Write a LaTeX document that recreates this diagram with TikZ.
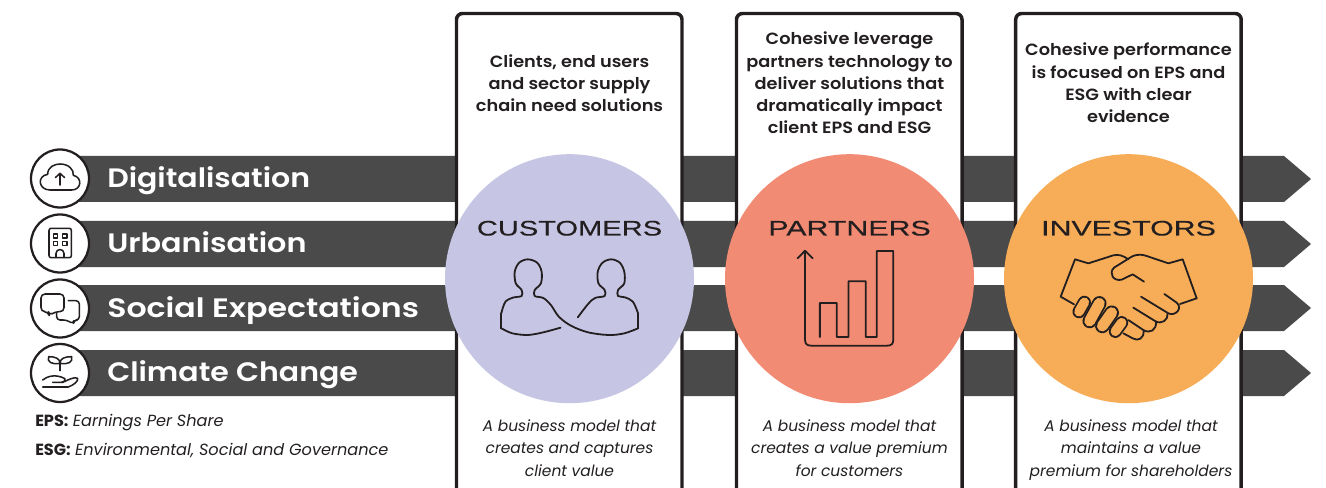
\documentclass[tikz,border=0pt]{standalone}
\usepackage{fontspec}
\setmainfont{Poppins}
\newfontfamily\barfont[FakeStretch=1.125]{Poppins SemiBold}
\newfontfamily\barfontb[FakeStretch=1.135]{Poppins SemiBold}
\newfontfamily\barfontc[FakeStretch=1.185]{Poppins SemiBold}
\newfontfamily\headfont[FakeStretch=1.09]{Poppins SemiBold}
\newfontfamily\capsfont[FakeStretch=1.38,FakeBold=0.35]{Liberation Sans}
\newfontfamily\capsfontb[FakeStretch=1.44,FakeBold=0.35]{Liberation Sans}
\newfontfamily\notefont[ItalicFont={Poppins Italic},BoldFont={Poppins Bold}]{Poppins}
\definecolor{barc}{HTML}{4A4A4A}
\definecolor{inkc}{HTML}{231F20}
\definecolor{lavc}{HTML}{C6C6E4}
\definecolor{salc}{HTML}{F28B73}
\definecolor{orac}{HTML}{F7AD57}
\tikzset{
  x=0.75pt,y=-0.75pt,
  flowbar/.style={fill=barc,draw=none},
  panel/.style={fill=white,draw=inkc,line width=2.6pt,rounded corners=4.5pt},
  disc/.style={circle,minimum size=186.75pt,inner sep=0pt,draw=none},
  badge/.style={circle,minimum size=43.5pt,inner sep=0pt,fill=white,draw=inkc,line width=1.7pt},
  barlabel/.style={anchor=base west,text=white,inner sep=0pt,font=\barfont\fontsize{20}{24}\selectfont},
  barlabelb/.style={anchor=base west,text=white,inner sep=0pt,font=\barfontb\fontsize{20}{24}\selectfont},
  barlabelc/.style={anchor=base west,text=white,inner sep=0pt,font=\barfontc\fontsize{20}{24}\selectfont},
  headtext/.style={align=center,text=inkc,inner sep=0pt,font=\headfont\fontsize{12.2}{16.7}\selectfont},
  captext/.style={align=center,text=inkc,inner sep=0pt,font=\notefont\itshape\fontsize{11.6}{16.9}\selectfont},
  disclabel/.style={text=inkc,inner sep=0pt,anchor=base,font=\capsfont\fontsize{15.8}{18}\selectfont},
  disclabelb/.style={text=inkc,inner sep=0pt,anchor=base,font=\capsfontb\fontsize{15.8}{18}\selectfont},
  notetext/.style={anchor=base west,text=inkc,inner sep=0pt,font=\notefont\fontsize{12.1}{14}\selectfont},
  iconbig/.style={draw=inkc,line width=1.35pt,line cap=round,line join=round},
  iconsmall/.style={draw=inkc,line width=1.15pt,line cap=round,line join=round},
  fingerout/.style={draw=inkc,line cap=round,line width=#1},
}
\begin{document}
\begin{tikzpicture}
\useasboundingbox (0,0) rectangle (1326,488);
\clip (0,0) rectangle (1326,488);
% bars
\foreach \t/\b in {156/202,221/267,285/331,350/396}{
  \pgfmathsetmacro{\m}{(\t+\b)/2}
  \fill[flowbar] (60,\t) -- (1284,\t) -- (1311,\m) -- (1284,\b) -- (60,\b) -- cycle;
}
% panels
\foreach \l in {456.5,736.5,1015.7}{
  \draw[panel] (\l,510) -- (\l,13.5) -- (\l+225.5,13.5) -- (\l+225.5,510);
}
% discs
\node[disc,fill=lavc] (dCust) at (569.5,278.7) {};
\node[disc,fill=salc] (dPart) at (849.5,278.7) {};
\node[disc,fill=orac] (dInv) at (1128.5,278.7) {};
\node[disclabel] (lCust) at (569.5,235.5) {CUSTOMERS};
\node[disclabelb] (lPart) at (849.5,235.5) {PARTNERS};
\node[disclabelb] (lInv) at (1128.5,235.5) {INVESTORS};
% badges
\node[badge] (bA) at (60,178.5) {};
\node[badge] (bB) at (60,243.5) {};
\node[badge] (bC) at (60,308.5) {};
\node[badge] (bD) at (60,373) {};
% bar labels
\node[barlabel] (tA) at (107,187.5) {Digitalisation};
\node[barlabelb] (tB) at (107,252.5) {Urbanisation};
\node[barlabelc] (tC) at (107,317) {Social Expectations};
\node[barlabel] (tD) at (107,381.5) {Climate Change};
% head texts
\node[headtext] (hA) at (569.5,83) {Clients, end users\\and sector supply\\chain need solutions};
\node[headtext] (hB) at (849.5,83) {Cohesive leverage\\partners technology to\\deliver solutions that\\dramatically impact\\client EPS and ESG};
\node[headtext] (hC) at (1128.5,83) {Cohesive performance\\is focused on EPS and\\ESG with clear\\evidence};
% captions
\node[captext] (cA) at (569.5,448) {A business model that\\creates and captures\\client value};
\node[captext] (cB) at (849.5,448) {A business model that\\creates a value premium\\for customers};
\node[captext] (cC) at (1131,450) {A business model that\\maintains a value\\premium for shareholders};
% notes
\node[notetext] (nA) at (35,426) {\textbf{EPS:} \textit{Earnings Per Share}};
\node[notetext] (nB) at (35,455) {\textbf{ESG:} \textit{Environmental, Social and Governance}};
% people icon
\begin{scope}[shift={(440,200)},x=0.2583pt,y=-0.25pt]
\draw[iconbig] plot[smooth,tension=0.5] coordinates {(350,383)(300,397)(255,405)(210,400)(178,385)};
\draw[iconbig] (178,385) -- (178,340);
\draw[iconbig] plot[smooth,tension=0.55] coordinates {(178,340)(190,305)(215,292)(237,288)(237,270)(220,250)(217,215)(230,188)(255,178)(282,188)(295,215)(293,250)(275,270)(275,288)(300,294)(322,315)(345,350)(380,377)(430,397)(490,405)(535,400)(575,385)};
\draw[iconbig] (575,385) -- (575,340);
\draw[iconbig] plot[smooth,tension=0.55] coordinates {(575,340)(560,305)(537,292)(517,288)(517,270)(535,250)(535,215)(522,188)(497,178)(472,188)(458,215)(460,250)(478,270)(478,288)(450,294)(430,312)(400,352)};
\end{scope}
% chart icon
\begin{scope}[shift={(440,200)},x=0.2583pt,y=-0.25pt]
\draw[iconbig] (1060,153) -- (1060,420) .. controls (1060,432) and (1066,437) .. (1078,437) -- (1298,437) .. controls (1310,437) and (1316,432) .. (1316,420) -- (1316,153) -- (1268,153) -- (1268,411) -- (1236,411) -- (1236,244) -- (1186,244) -- (1186,411) -- (1152,411) -- (1152,309) -- (1103,309) -- (1103,411);
\draw[iconbig] (1038,175) -- (1060,152) -- (1082,175);
\end{scope}
% handshake icon
\begin{scope}[shift={(980,140)},x=0.25pt,y=-0.25pt]
\draw[iconbig] (282,493) -- (242,470) -- (285,358) -- (325,370) -- (400,346) .. controls (415,342) and (430,347) .. (445,358);
\draw[iconbig] (492,425) -- (458,403) -- (425,419) .. controls (400,425) and (385,400) .. (402,383) -- (455,350) .. controls (475,340) and (490,345) .. (500,348) -- (565,370) -- (608,358) -- (650,475) -- (600,492);
\draw[iconbig] (553,462) -- (590,488) .. controls (610,505) and (585,530) .. (565,520) -- (483,470);
\draw[iconbig] (563,520) .. controls (565,540) and (545,555) .. (525,543) -- (460,503);
\draw[iconbig] (528,545) .. controls (530,570) and (510,582) .. (490,570) -- (445,540);
\draw[iconbig] (491,572) .. controls (492,595) and (475,605) .. (458,595) -- (430,580);
\foreach \ax/\ay/\bx/\by/\w in {313/487/297/515/34,358/490/329/543/38,395/518/367/558/38,425/548/406/574/34}{
  \draw[fingerout=\w*0.25pt+1.35pt] (\ax,\ay) -- (\bx,\by);
  \draw[line cap=round,draw=orac,line width=\w*0.25pt-1.35pt] (\ax,\ay) -- (\bx,\by);
}
\end{scope}
% small icons
\begin{scope}[shift={(0,140)},x=0.25pt,y=-0.25pt]
% cloud
\draw[iconsmall] (150,150) .. controls (115,150) and (110,108) .. (143,103) .. controls (143,80) and (165,72) .. (180,72) .. controls (205,72) and (222,88) .. (220,106) .. controls (248,112) and (245,150) .. (215,150) -- cycle;
\draw[iconsmall] (180,135) -- (180,100);
\draw[iconsmall] (166,113) -- (180,100) -- (194,113);
% building
\draw[iconsmall,rounded corners=1.5pt] (147,265) rectangle (214,353);
\foreach \wx/\wy in {160/282,188/282,160/305,188/305}{
  \draw[iconsmall] (\wx,\wy) rectangle (\wx+13,\wy+12);
}
\draw[iconsmall] (168,353) -- (168,340) .. controls (168,325) and (192,325) .. (192,340) -- (192,353);
% speech
\draw[iconsmall,rounded corners=3pt] (148,527) -- (145,515) -- (123,515) -- (123,462) -- (192,462) -- (192,515) -- (165,515) -- cycle;
\draw[iconsmall,rounded corners=2.5pt] (205,482) -- (238,482) -- (238,540) -- (222,540) -- (220,552) -- (200,540) -- (170,540) -- (170,520);
% plant
\draw[iconsmall] (180,692) -- (180,662);
\draw[iconsmall] (180,670) .. controls (155,675) and (140,665) .. (146,650) .. controls (165,650) and (180,655) .. (180,670);
\draw[iconsmall] (180,670) .. controls (205,675) and (220,665) .. (215,650) .. controls (195,650) and (180,655) .. (180,670);
\draw[iconsmall] (128,741) -- (205,741) .. controls (220,735) and (235,725) .. (233,715) .. controls (225,708) and (200,722) .. (188,727) -- (158,727);
\draw[iconsmall] (128,720) .. controls (140,710) and (165,700) .. (195,716) .. controls (198,722) and (190,727) .. (185,727);
\end{scope}
\end{tikzpicture}
\end{document}
